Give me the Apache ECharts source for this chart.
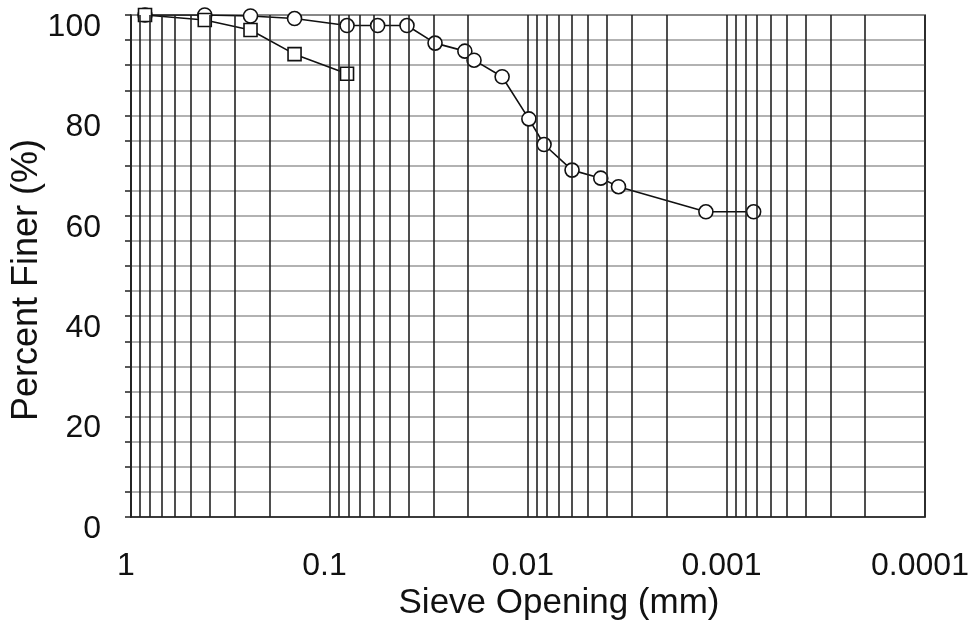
<!DOCTYPE html>
<html>
<head>
<meta charset="utf-8">
<script src="https://cdn.jsdelivr.net/npm/echarts@6/dist/echarts.min.js"></script>
<style>
  html, body { margin: 0; padding: 0; background: #fff; }
  #chart-container { width: 968px; height: 635px; }
</style>
</head>
<body>
<div id="chart-container"></div>
<script>
// sieve opening (mm) and percent finer
var finerX = [0.85, 0.425, 0.25, 0.15, 0.0816, 0.0572, 0.0407, 0.0294, 0.0208, 0.0187,
  0.0135, 0.0099, 0.0083, 0.0060, 0.0043, 0.0035, 0.00127, 0.00073];
var finerY = [100, 100, 99.8, 99.3, 97.9, 97.9, 97.9, 94.4, 92.8, 91.0,
  87.7, 79.3, 74.2, 69.1, 67.5, 65.8, 60.8, 60.8];
var sieveX = [0.85, 0.425, 0.25, 0.15, 0.0816];
var sieveY = [100, 99.0, 97.0, 92.2, 88.3];

// minor log grid lines (2..9 in each decade)
var decades = [1, 0.1, 0.01, 0.001];
var minorGrid = [];
decades.forEach(function (d) {
  for (var k = 2; k <= 9; k++) {
    minorGrid.push(+(k * d / 10).toPrecision(2));
  }
});

var font = "'Liberation Sans', Arial, sans-serif";

var dom = document.getElementById("chart-container");
var myChart = echarts.init(dom, null, { renderer: "canvas" });

function pairs(xs, ys) {
  return xs.map(function (x, i) { return [x, ys[i]]; });
}

var option = {
  animation: false,
  backgroundColor: "#fff",
  grid: {
    left: 131, right: 43, top: 15, bottom: 118,
    containLabel: false,
    outerBoundsMode: "none",
    show: true, borderColor: "#222", borderWidth: 1.5
  },
  xAxis: {
    type: "log",
    logBase: 10,
    inverse: true,
    min: 0.0001,
    max: 1,
    name: "Sieve Opening (mm)",
    nameLocation: "middle",
    nameGap: 69,
    nameMoveOverlap: false,
    nameTextStyle: { fontFamily: font, fontSize: 35, color: "#111", padding: [0, 0, 0, 62] },
    axisLine: { lineStyle: { color: "#222", width: 1.5 } },
    axisTick: { show: false },
    axisLabel: {
      margin: 33,
      fontFamily: font, fontSize: 32, color: "#111",
      padding: [0, 10, 0, 0],
      formatter: function (v) { return String(+(+v).toPrecision(1)); }
    },
    splitLine: { show: true, lineStyle: { color: "#222", width: 1.6 } }
  },
  yAxis: {
    type: "value",
    min: 0,
    max: 100,
    interval: 5,
    name: "Percent Finer (%)",
    nameLocation: "middle",
    nameGap: 86,
    nameMoveOverlap: false,
    nameTextStyle: { fontFamily: font, fontSize: 36, color: "#111", padding: [0, 28, 0, 0] },
    axisLine: { show: true, lineStyle: { color: "#222", width: 1.5 } },
    axisTick: { show: true, inside: false, length: 6, lineStyle: { color: "#222", width: 1.5 } },
    axisLabel: {
      margin: 30,
      showMinLabel: true,
      showMaxLabel: true,
      hideOverlap: false,
      fontFamily: font, fontSize: 32, color: "#111",
      verticalAlign: "top",
      lineHeight: 24,
      formatter: function (v) { return v % 20 === 0 ? String(v) : ""; }
    },
    splitLine: { show: true, lineStyle: { color: "#999", width: 1.5 } }
  },
  series: [
    {
      name: "grid",
      type: "line",
      data: [],
      z: 1,
      silent: true,
      markLine: {
        silent: true,
        symbol: "none",
        precision: 8,
        animation: false,
        label: { show: false },
        lineStyle: { color: "#222", width: 1.6, type: "solid" },
        data: minorGrid.map(function (v) { return { xAxis: v }; })
      }
    },
    {
      name: "finer",
      type: "line",
      z: 3,
      data: pairs(finerX, finerY),
      symbol: "circle",
      symbolSize: 14,
      showAllSymbol: true,
      lineStyle: { color: "#111", width: 1.6 },
      itemStyle: { color: "#fff", borderColor: "#111", borderWidth: 1.6 }
    },
    {
      name: "sieve",
      type: "line",
      z: 4,
      data: pairs(sieveX, sieveY),
      symbol: "rect",
      symbolSize: 13,
      showAllSymbol: true,
      lineStyle: { color: "#111", width: 1.6 },
      itemStyle: { color: "#fff", borderColor: "#111", borderWidth: 1.6 }
    }
  ]
};

myChart.setOption(option);
window.addEventListener("resize", myChart.resize);
</script>
</body>
</html>
